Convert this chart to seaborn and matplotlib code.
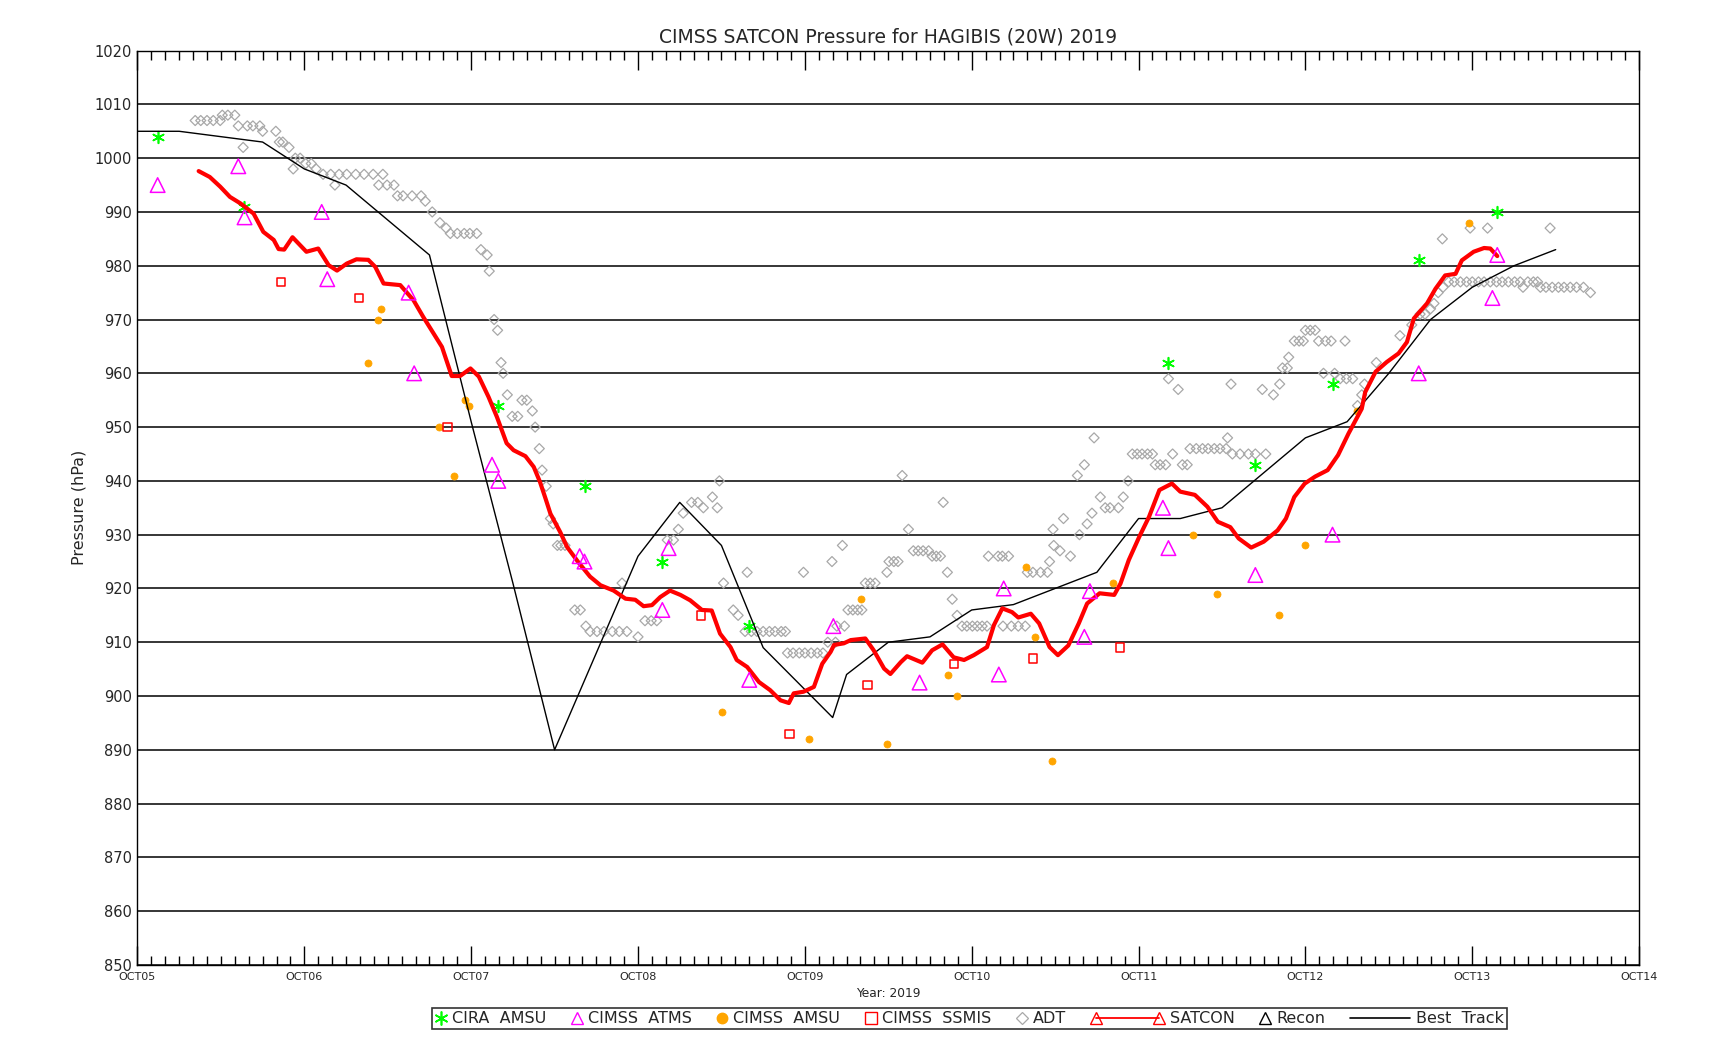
import numpy as np
import pandas as pd
import matplotlib
matplotlib.use("Agg")
import matplotlib.pyplot as plt
import seaborn as sns
from matplotlib.lines import Line2D
from matplotlib.legend_handler import HandlerLine2D
from matplotlib.ticker import MultipleLocator

# ---------------- data (hours since OCT05 00Z, pressure hPa) ----------------
day_labels = ["OCT05", "OCT06", "OCT07", "OCT08", "OCT09", "OCT10", "OCT11", "OCT12", "OCT13", "OCT14"]

bt_hours = [0, 6, 18, 24, 30, 42, 48, 54, 60, 66, 72, 78, 84, 90, 100, 102, 108, 114, 120, 126,
            138, 144, 150, 156, 168, 174, 180, 186, 192, 198, 204]
bt_pres = [1005, 1005, 1003, 998, 995, 982, 951, 921, 890, 908, 926, 936, 928, 909, 896, 904, 910, 911, 916, 917,
           923, 933, 933, 935, 948, 951, 960, 970, 976, 980, 983]

satcon_hours = [8.8, 10.4, 11.9, 13.3, 14.8, 16.7, 18.1, 19.6, 20.3, 21.1, 22.3, 24.3, 26.0, 27.5, 28.7,
                30.1, 31.5, 33.2, 34.2, 35.4, 37.8, 39.7, 41.1, 42.6, 43.8, 45.2, 46.4, 47.9, 49.1, 50.5,
                51.7, 53.1, 54.1, 55.8, 57.0, 57.9, 58.7, 59.4, 60.8, 61.8, 63.4, 65.1, 66.6, 68.5, 70.2,
                71.6, 72.8, 74.0, 75.2, 76.6, 78.1, 79.5, 81.2, 82.6, 83.8, 85.3, 86.2, 87.7, 89.4, 91.0,
                92.5, 93.7, 94.4, 95.8, 97.3, 98.5, 99.7, 100.2, 101.6, 102.6, 104.7, 105.9, 107.4, 108.3,
                109.8, 110.7, 112.9, 114.3, 115.8, 117.4, 118.9, 120.3, 122.2, 123.2, 124.4, 125.8, 126.7,
                128.5, 129.7, 131.2, 132.4, 133.9, 135.4, 136.6, 138.4, 140.5, 141.4, 142.6, 144.1, 145.5,
                147.0, 148.8, 150.0, 152.1, 153.9, 155.4, 157.2, 158.4, 160.2, 162.0, 164.0, 165.2, 166.4,
                167.9, 169.4, 171.2, 172.7, 174.2, 176.1, 176.6, 178.1, 179.7, 181.4, 182.6, 183.6, 185.5,
                186.7, 188.1, 189.6, 190.5, 192.2, 193.7, 194.6, 195.6]
satcon_pres = [997.6, 996.5, 994.7, 992.8, 991.6, 989.7, 986.3, 984.8, 983.1, 983.0, 985.3, 982.6, 983.2, 980.1, 979.1,
               980.4, 981.2, 981.1, 979.8, 976.7, 976.4, 973.6, 970.5, 967.4, 964.9, 959.5, 959.5, 960.9, 959.4, 955.6,
               951.9, 947.0, 945.7, 944.6, 942.6, 939.8, 936.7, 933.9, 930.5, 927.7, 924.9, 922.2, 920.6, 919.6, 918.1,
               917.9, 916.7, 916.9, 918.4, 919.6, 918.8, 917.8, 916.0, 915.9, 911.6, 909.1, 906.7, 905.4, 902.6, 901.1,
               899.2, 898.7, 900.5, 900.8, 901.7, 906.0, 908.2, 909.5, 909.8, 910.4, 910.7, 908.5, 905.1, 904.1,
               906.3, 907.4, 906.2, 908.5, 909.6, 907.2, 906.7, 907.6, 909.1, 913.2, 916.3, 915.6, 914.6,
               915.3, 913.5, 909.1, 907.6, 909.4, 913.5, 917.2, 919.1, 918.8, 920.9, 925.3, 929.6, 933.3,
               938.3, 939.5, 938.0, 937.4, 935.2, 932.4, 931.4, 929.3, 927.6, 928.7, 930.8, 933.0, 937.0,
               939.5, 940.8, 942.0, 944.8, 948.8, 953.4, 956.5, 960.3, 962.1, 963.7, 965.8, 970.2, 973.0,
               975.7, 978.2, 978.5, 981.0, 982.6, 983.3, 983.2, 981.8]

cira_hours = [2.9, 15.3, 51.9, 64.4, 75.5, 88.0, 148.3, 160.7, 171.9, 184.3, 195.6]
cira_pres = [1004, 991, 954, 939, 925, 913, 962, 943, 958, 981, 990]

atms_hours = [2.9, 14.5, 15.4, 26.5, 27.3, 39.0, 39.8, 51.0, 51.9, 63.6, 64.3, 75.5, 76.4, 88.0, 100.1,
              112.5, 123.9, 124.6, 136.2, 137.0, 147.5, 148.3, 160.8, 171.9, 184.3, 194.9, 195.6]
atms_pres = [995, 998.5, 989, 990, 977.5, 975, 960, 943, 940, 926, 925, 916, 927.5, 903, 913,
             902.5, 904, 920, 911, 919.5, 935, 927.5, 922.5, 930, 960, 974, 982]

amsu_hours = [33.1, 34.6, 35.1, 43.4, 45.5, 47.1, 47.7, 84.1, 96.6, 104.1, 107.8, 116.6, 117.9, 127.8,
              129.1, 131.5, 140.3, 151.8, 155.3, 164.2, 167.9, 175.4, 191.6]
amsu_pres = [962, 970, 972, 950, 941, 955, 954, 897, 892, 918, 891, 904, 900, 924,
             911, 888, 921, 930, 919, 915, 928, 953, 988]

ssmis_hours = [20.6, 31.9, 44.6, 81.1, 93.8, 105.0, 117.5, 128.8, 141.3]
ssmis_pres = [977, 974, 950, 915, 893, 902, 906, 907, 909]

adt_hours = [8.3, 9.1, 10.0, 10.9, 11.9, 12.2, 13.0, 14.0, 14.5, 15.2, 15.8, 16.6, 17.6, 18.0, 19.9, 20.4,
             20.9, 21.8, 22.4, 22.7, 23.4, 24.2, 25.0, 25.7, 26.7, 27.8, 28.4, 29.0, 30.1, 31.4, 32.6, 33.9,
             34.7, 35.3, 35.9, 36.9, 37.4, 38.2, 39.5, 40.8, 41.4, 42.4, 43.5, 44.4, 45.0, 46.0, 47.0, 47.8,
             48.8, 49.4, 50.3, 50.6, 51.3, 51.8, 52.3, 52.6, 53.2, 53.9, 54.7, 55.3, 56.0, 56.8, 57.2, 57.8,
             58.2, 58.8, 59.4, 59.8, 60.4, 60.9, 61.5, 62.9, 63.7, 64.5, 65.1, 66.1, 67.1, 68.3, 69.3, 69.7,
             70.4, 72.0, 73.0, 73.9, 74.7, 76.2, 77.1, 77.8, 78.5, 79.7, 80.6, 81.4, 82.7, 83.4, 83.7, 84.3,
             85.7, 86.4, 87.4, 87.7, 88.3, 89.1, 90.0, 90.9, 91.7, 92.6, 93.2, 93.5, 94.3, 95.2, 95.8, 96.0,
             96.9, 97.8, 98.6, 99.3, 99.9, 100.4, 100.6, 101.4, 101.7, 102.2, 102.9, 103.6, 104.2, 104.7,
             105.4, 106.1, 107.8, 108.1, 108.8, 109.4, 110.0, 110.9, 111.6, 112.3, 113.0, 113.8, 114.3,
             114.9, 115.5, 115.9, 116.5, 117.2, 117.9, 118.6, 119.3, 120.1, 120.8, 121.5, 122.2, 122.4,
             123.8, 124.4, 124.5, 125.3, 125.7, 126.7, 127.7, 128.0, 128.8, 129.9, 130.9, 131.2, 131.7,
             131.8, 132.7, 133.2, 134.2, 135.2, 135.5, 136.2, 136.6, 137.3, 137.6, 138.5, 139.2, 139.9,
             141.1, 141.8, 142.5, 143.1, 143.8, 144.5, 145.3, 146.0, 146.4, 147.1, 147.9, 148.3, 148.9,
             149.7, 150.3, 151.0, 151.4, 152.3, 153.2, 154.0, 154.9, 155.7, 156.6, 156.8, 157.3, 157.5,
             158.6, 159.8, 160.8, 161.8, 162.3, 163.4, 164.3, 164.7, 165.4, 165.6, 166.4, 167.1, 167.7,
             168.0, 168.7, 169.4, 169.9, 170.6, 170.9, 171.7, 172.2, 173.0, 173.7, 173.9, 174.8, 175.5,
             176.1, 176.5, 178.2, 181.6, 183.3, 184.5, 185.2, 186.0, 186.5, 187.1, 187.7, 187.8, 188.6,
             189.4, 190.3, 191.2, 191.7, 192.0, 192.9, 193.7, 194.2, 194.6, 195.5, 196.3, 197.2, 198.1,
             198.9, 199.3, 200.0, 200.8, 201.4, 201.8, 202.6, 203.2, 203.5, 204.4, 205.2, 206.1, 207.0,
             208.0, 209.0]
adt_pres = [1007, 1007, 1007, 1007, 1007, 1008, 1008, 1008, 1006, 1002, 1006, 1006, 1006, 1005, 1005, 1003,
            1003, 1002, 998, 1000, 1000, 999, 999, 998, 997, 997, 995, 997, 997, 997, 997, 997,
            995, 997, 995, 995, 993, 993, 993, 993, 992, 990, 988, 987, 986, 986, 986, 986,
            986, 983, 982, 979, 970, 968, 962, 960, 956, 952, 952, 955, 955, 953, 950, 946,
            942, 939, 933, 932, 928, 928, 928, 916, 916, 913, 912, 912, 912, 912, 912, 921,
            912, 911, 914, 914, 914, 929, 929, 931, 934, 936, 936, 935, 937, 935, 940, 921,
            916, 915, 912, 923, 912, 912, 912, 912, 912, 912, 912, 908, 908, 908, 923, 908,
            908, 908, 908, 910, 925, 910, 913, 928, 913, 916, 916, 916, 916, 921,
            921, 921, 923, 925, 925, 925, 941, 931, 927, 927, 927, 927, 926,
            926, 926, 936, 923, 918, 915, 913, 913, 913, 913, 913, 913, 926,
            926, 926, 913, 926, 913, 913, 913, 923, 923, 923, 923, 925, 931,
            928, 927, 933, 926, 941, 930, 943, 932, 934, 948, 937, 935, 935,
            935, 937, 940, 945, 945, 945, 945, 945, 943, 943, 943, 959, 945,
            957, 943, 943, 946, 946, 946, 946, 946, 946, 946, 948, 958, 945,
            945, 945, 945, 957, 945, 956, 958, 961, 961, 963, 966, 966, 966,
            968, 968, 968, 966, 960, 966, 966, 960, 959, 966, 959, 959, 954,
            956, 958, 962, 967, 969, 971, 971, 972, 973, 975, 985, 976, 977,
            977, 977, 977, 987, 977, 977, 977, 987, 977, 977, 977, 977, 977,
            977, 976, 977, 977, 977, 976, 976, 987, 976, 976, 976, 976, 976,
            976, 975]

legend_labels = ["CIRA  AMSU", "CIMSS  ATMS", "CIMSS  AMSU", "CIMSS  SSMIS", "ADT", "SATCON", "Recon",
                 "Best  Track"]

assert len(satcon_hours) == len(satcon_pres)
assert len(adt_hours) == len(adt_pres)
assert len(atms_hours) == len(atms_pres)
assert len(amsu_hours) == len(amsu_pres)
assert len(bt_hours) == len(bt_pres)

# ---------------- style ----------------
sns.set_style("white")
plt.rcParams["font.family"] = ["DejaVu Sans"]

c_green = "#00ff00"
c_mag = "#ff00ff"
c_orange = "#ffa500"
c_red = "#ff0000"
c_gray = "#a8a8a8"

fig = plt.figure(figsize=(17.25, 10.5), dpi=100)
ax = fig.add_axes([0.0797, 0.081, 0.9502 - 0.0797, 0.9518 - 0.081])

# ADT
sns.scatterplot(x=adt_hours, y=adt_pres, ax=ax, marker="D", s=26, facecolor="none",
                edgecolor=c_gray, linewidth=0.9, zorder=3)
# CIRA AMSU
sns.scatterplot(x=cira_hours, y=cira_pres, ax=ax, marker=(6, 2, 0), s=70, color=c_green,
                edgecolor=c_green, linewidth=1.2, zorder=4)
# CIMSS AMSU
sns.scatterplot(x=amsu_hours, y=amsu_pres, ax=ax, marker="o", s=26, color=c_orange,
                edgecolor=c_orange, linewidth=0.5, zorder=4)
# CIMSS SSMIS
sns.scatterplot(x=ssmis_hours, y=ssmis_pres, ax=ax, marker="s", s=36, facecolor="none",
                edgecolor=c_red, linewidth=1.1, zorder=4)
# Best track
sns.lineplot(x=bt_hours, y=bt_pres, ax=ax, color="black", linewidth=1.0, estimator=None,
             sort=False, zorder=5)
# SATCON
sns.lineplot(x=satcon_hours, y=satcon_pres, ax=ax, color=c_red, linewidth=3.0, estimator=None,
             sort=False, zorder=6)
# CIMSS ATMS
sns.scatterplot(x=atms_hours, y=atms_pres, ax=ax, marker="^", s=110, facecolor="none",
                edgecolor=c_mag, linewidth=1.1, zorder=7)

# ---------------- axes ----------------
ax.set_xlim(0, 216)
ax.set_ylim(850, 1020)
ax.set_xticks(np.arange(0, 217, 24))
ax.set_xticklabels(day_labels)
ax.xaxis.set_minor_locator(MultipleLocator(2))
ax.set_yticks(np.arange(850, 1021, 10))
ax.tick_params(axis="x", which="major", direction="in", top=True, bottom=True, length=13.5,
               width=1.0, labelsize=8, pad=5, color="black")
ax.tick_params(axis="x", which="minor", direction="in", top=True, bottom=True, length=6.7,
               width=1.0, color="black")
ax.tick_params(axis="y", which="both", length=0, labelsize=10.5, pad=4)
ax.grid(False)
ax.yaxis.grid(True, color="black", linewidth=1.1, zorder=1)
ax.set_axisbelow(True)
for sp in ax.spines.values():
    sp.set_color("black")
    sp.set_linewidth(1.0)

ax.set_title("CIMSS SATCON Pressure for HAGIBIS (20W) 2019", fontsize=13.5, pad=6)
ax.set_ylabel("Pressure (hPa)", fontsize=11.5, labelpad=6)
ax.set_xlabel("Year: 2019", fontsize=8.8, labelpad=4)


# ---------------- legend ----------------
class KeyHandler(HandlerLine2D):
    """Legend key of a given width (points): a marker at its centre, or a line across it."""
    def __init__(self, key_width, line=False, inset=1.0, **kw):
        super().__init__(**kw)
        self.key_width = key_width
        self.line = line
        self.inset = inset

    def create_artists(self, legend, orig_handle, xdescent, ydescent, width, height, fontsize, trans):
        y = (height - ydescent) / 2
        if self.line:
            xs = [-xdescent + self.inset, -xdescent + self.key_width - self.inset]
        else:
            xs = [-xdescent + self.key_width / 2]
        ln = Line2D(xs, [y] * len(xs))
        self.update_prop(ln, orig_handle, legend)
        ln.set_transform(trans)
        return [ln]


h_cira = Line2D([], [], ls="", marker=(6, 2, 0), ms=10, color=c_green, mew=1.2)
h_atms = Line2D([], [], ls="", marker="^", ms=9, mfc="none", mec=c_mag, mew=1.0)
h_amsu = Line2D([], [], ls="", marker="o", ms=7.5, mfc=c_orange, mec=c_orange)
h_ssmis = Line2D([], [], ls="", marker="s", ms=8, mfc="none", mec=c_red, mew=1.0)
h_adt = Line2D([], [], ls="", marker="D", ms=6, mfc="none", mec=c_gray, mew=0.9)
h_sat = Line2D([], [], ls="-", color=c_red, lw=1.3, marker="^", ms=9, mfc="none", mec=c_red, mew=1.0)
h_recon = Line2D([], [], ls="", marker="^", ms=9, mfc="none", mec="black", mew=1.0)
h_bt = Line2D([], [], ls="-", color="black", lw=1.2)

handles = [h_cira, h_atms, h_amsu, h_ssmis, h_adt, h_sat, h_recon, h_bt]
key_widths = [9, 9, 9, 9, 9, 54, 9, 44]          # points
key_is_line = [False] * 5 + [True, False, True]
key_insets = [1.0] * 5 + [4.5, 1.0, 0.5]
hmap = {h: KeyHandler(w, ln, ins) for h, w, ln, ins in zip(handles, key_widths, key_is_line, key_insets)}

L0, L1 = 431.7 / 1725, 1506.7 / 1725
leg = fig.legend(handles, legend_labels, handler_map=hmap, loc="center",
                 bbox_to_anchor=(L0, 0.0298 - 0.011, L1 - L0, 0.022), mode="expand",
                 ncol=8, fontsize=11.5, frameon=True, fancybox=False, edgecolor="black",
                 handlelength=1.0, handletextpad=0.3, columnspacing=1.0, borderpad=0.2,
                 borderaxespad=0)
leg.get_frame().set_linewidth(1.2)
# give each key box its own width
for col, w in zip(leg._legend_handle_box.get_children(), key_widths):
    for item in col.get_children():
        item.get_children()[0].width = w

fig.savefig("out.png", dpi=100, facecolor="white")
